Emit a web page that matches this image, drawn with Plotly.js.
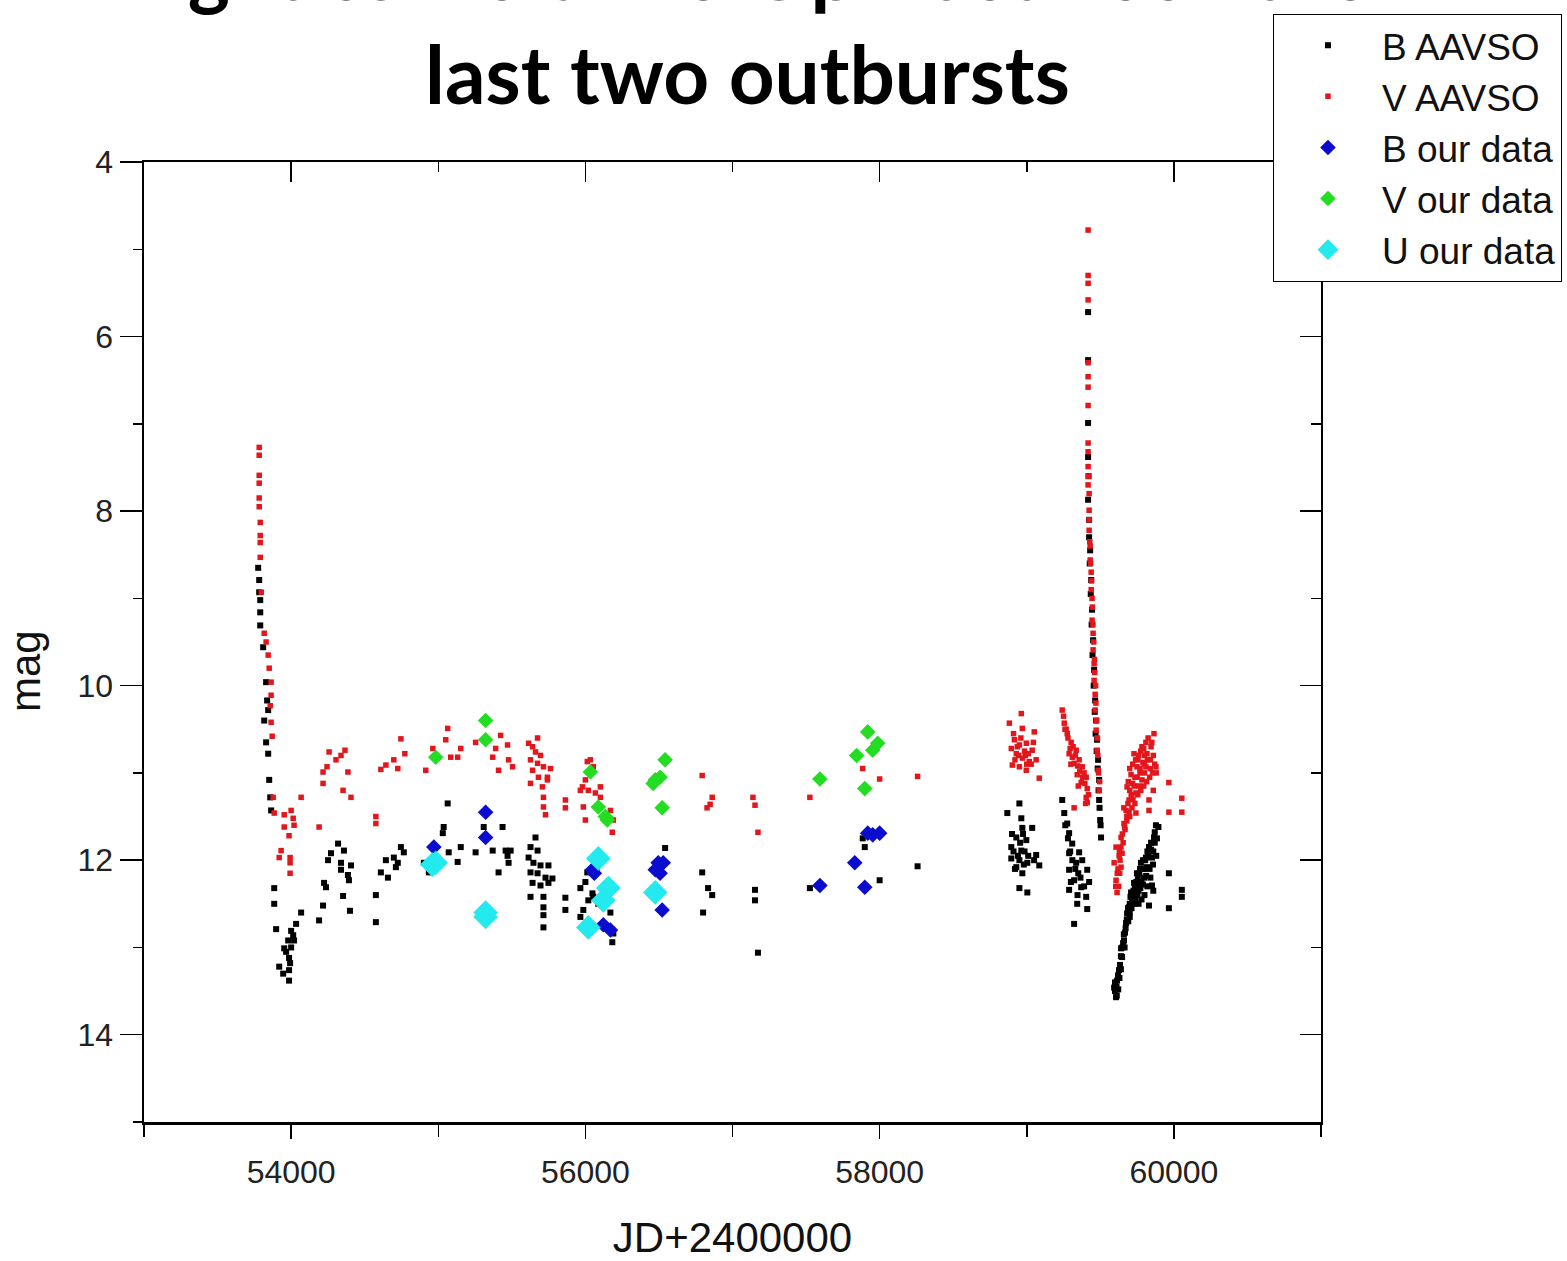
<!DOCTYPE html>
<html>
<head>
<meta charset="utf-8">
<script src="https://cdn.plot.ly/plotly-3.0.1.min.js"></script>
<style>
html,body{margin:0;padding:0;background:#fff;}
#chart{width:1567px;height:1261px;}
</style>
</head>
<body>
<div id="chart"></div>
<script>
// ---- Data ----
const bAavsoJD = [
53776,53783,53783,53790,53790,53790,53810,53830,53837,53844,53817,53830,53844,53851,53858,53864,53885,53885,53898,
54068,54034,54000,53980,53953,54000,53986,53919,53946,53986,53986,54014,54020,53966,53993,
54190,54217,54224,54237,54251,54271,54319,54359,54339,54407,54339,54386,54393,54353,54400,
54576,54576,54610,54644,54658,54698,54712,54725,54746,54766,
54902,54936,55064,55037,55031,54970,55071,55132,55153,55254,55309,55437,55370,55458,55492,55478,55410,55471,
55661,55627,55675,55614,55647,55695,55749,55627,55675,55729,55776,55641,55695,55749,55627,55715,55715,55715,55715,55864,55864,
55966,56000,56048,56020,56054,55986,55966,56088,56170,56190,56183,56013,
56542,56794,56834,56862,56800,57153,57153,57173,57526,57885,57899,58000,58258,
58950,58868,58963,58970,59037,58929,58997,58895,58963,59064,58895,58950,59004,59085,58929,58970,58950,59004,
58910,58940,58955,58985,59010,58920,58980,59050,58900,58975,
59241,59255,59275,59288,59309,59288,59356,59336,59377,59411,59288,59322,59424,59370,59288,59404,59343,59411,59322,
59262,59280,59295,59310,59330,59350,59365,59390,59300,59345,
59417,59417,59417,59417,59417,59424,59431,59438,59444,59451,59458,59465,59472,59478,59485,59492,59492,59499,59505,
59420,59424,59428,59435,59441,59447,59455,59462,59468,59475,59482,59488,59495,59502,
59607,59594,59614,59627,59648,59641,59661,59668,59675,59682,59695,59716,59709,59742,59729,59763,59749,59797,59776,59817,59810,59851,59831,59865,59878,59851,59831,59966,59966,60054,60054,
59600,59610,59620,59700,59720,59735,59755,59770,59790,59800,59820,59845,59860,59740,59760,59780,59700,59690,59655,59640,59634,
59600,59612,59622,59630,59640,59650,59660,59665,59672,59680,59688,59700,59705,59712,59725,59730,59745,59752,59765,59772,
59785,59790,59805,59812,59825,59835,59845,59858,59870,59880,59870,59885,59895,59840,59820,59800,59780,59760,59860
];
const bAavsoMag = [
8.65,8.79,8.93,9.02,9.16,9.31,9.56,9.96,10.17,10.28,10.40,10.65,10.78,11.08,11.28,11.43,12.32,12.50,12.79,
12.60,12.73,12.81,12.92,13.01,13.00,13.12,13.22,13.30,13.26,13.38,12.86,12.92,13.05,13.18,
12.69,12.52,12.26,12.31,12.00,11.92,11.81,11.89,12.03,12.06,12.11,12.17,12.23,12.41,12.58,
12.40,12.71,12.14,12.00,12.20,11.97,12.08,12.03,11.85,11.91,
12.03,12.14,11.35,11.62,11.69,11.86,11.91,12.02,11.85,11.91,11.62,11.62,11.89,11.89,11.89,12.03,12.14,11.95,
11.74,11.85,11.89,11.97,12.03,12.06,12.06,12.14,12.15,12.20,12.21,12.26,12.29,12.26,12.42,12.42,12.54,12.63,12.77,12.43,12.57,
12.32,12.25,12.38,12.46,12.42,12.57,12.65,12.50,12.60,12.84,12.94,12.14,
11.86,12.14,12.32,12.40,12.60,12.34,12.46,13.06,12.32,11.75,11.85,12.23,12.07,
11.35,11.46,11.52,11.63,11.63,11.74,11.77,11.85,11.89,11.94,11.98,12.00,12.03,12.06,12.08,12.15,12.32,12.37,
11.90,11.95,11.80,11.90,11.95,12.10,12.05,12.00,11.70,11.70,
11.31,11.46,11.58,11.69,11.81,11.92,11.91,12.03,12.00,12.11,12.11,12.23,12.25,12.31,12.34,12.42,12.50,12.56,12.73,
11.60,11.75,11.90,12.00,12.10,12.15,12.20,12.30,12.25,12.40,
5.72,6.27,6.99,7.38,7.87,8.10,8.45,8.79,9.13,9.48,9.82,10.17,10.40,10.62,10.85,11.08,11.31,11.54,11.74,
7.60,8.30,8.60,8.95,9.30,9.65,10.00,10.30,10.55,10.75,10.95,11.20,11.40,11.60,
13.57,13.46,13.38,13.26,13.11,13.01,12.92,12.83,12.72,12.61,12.54,12.46,12.37,12.38,12.26,12.31,12.15,12.20,12.03,12.08,11.97,11.97,11.85,11.74,11.60,12.29,12.52,12.15,12.55,12.34,12.42,
13.50,13.45,13.32,12.50,12.40,12.30,12.20,12.10,12.00,12.10,11.90,11.80,11.90,12.45,12.35,12.25,12.65,12.70,12.95,13.10,13.20,
13.40,13.55,13.48,13.35,13.25,13.00,12.85,13.00,12.78,12.68,12.55,12.60,12.42,12.55,12.35,12.50,12.25,12.40,12.15,12.32,
12.10,12.28,12.00,12.18,11.95,12.10,11.88,12.05,11.80,11.95,11.68,11.75,11.62,12.20,12.30,12.40,12.45,12.50,12.35
];

const vAavsoJD = [
53783,53783,53783,53783,53783,53783,53790,53790,53790,53790,53797,53817,53830,53844,53851,53864,53864,53858,53864,53871,
53878,53885,53953,53953,54000,54014,54020,53986,53932,53919,53993,53993,53993,54068,54190,54217,54217,54244,54258,54305,
54339,54366,54386,54353,54407,54576,54576,54610,54644,54698,54746,54773,54725,54915,54963,55051,55064,55085,55132,55153,
55254,55370,55390,55424,55471,55410,55478,55505,
55614,55641,55675,55661,55695,55627,55675,55715,55763,55641,55681,55742,55627,55708,55742,55715,55715,55729,55864,55864,
55986,56000,55966,56000,56013,56034,56054,55980,56020,56068,56102,56102,56170,56190,56183,
56794,56862,56827,56848,57139,57153,57173,57526,57885,58000,58258,
58963,58882,58970,59051,58916,58950,58997,59037,58929,58970,59017,59064,58902,58950,58997,59085,58936,58990,
58895,58920,58945,58960,58985,59010,59030,59045,58910,59000,
59241,59255,59275,59302,59288,59336,59322,59356,59377,59343,59404,59370,59411,59404,59411,59322,59268,59315,59390,
59250,59260,59280,59295,59310,59330,59345,59360,59380,59395,59300,59350,59420,59400,
59417,59417,59417,59417,59417,59417,59417,59417,59417,59417,59424,59424,59431,59438,59444,59451,59458,59465,59472,59478,59485,59492,
59424,59431,59438,59444,59451,59458,59465,
59417,59417,59420,59424,59428,59434,59440,59446,59450,59455,59460,59462,59468,59470,59475,59480,59483,59488,59495,
59865,59783,59817,59729,59878,59810,59749,59709,59783,59682,59742,59695,59831,59675,59742,59661,59641,59607,59648,59594,
59641,59607,59614,59966,60054,59966,60054,59831,
59756,59790,59770,59735,59800,59720,59760,59700,59722,59688,59700,59680,59668,59655,59630,59620,59634,59800,59850,59840,
59700,59720,59740,59760,59775,59795,59810,59825,59845,59860,59870,59855,59835,59815,59795,59775,59755,59735,59715,59695,
59680,59665,59650,59640,59628,59615,59605,59625,59632,59660,59690,59710,59730,59750,59770,59800,59820,59840,59860,59880
];
const vAavsoMag = [
7.27,7.36,7.59,7.68,7.85,7.95,8.13,8.28,8.36,8.53,8.93,9.40,9.50,9.65,9.80,9.96,10.11,10.23,10.42,10.58,
11.28,11.46,11.48,11.62,11.43,11.52,11.60,11.72,11.89,11.97,11.97,12.03,12.15,11.28,11.62,10.99,11.12,10.93,10.76,10.85,
10.80,10.74,10.99,11.20,11.28,11.58,11.50,10.96,10.91,10.85,10.61,10.78,10.95,10.97,10.72,10.62,10.49,10.82,10.82,10.72,
10.65,10.82,10.72,10.57,10.68,10.97,10.85,10.93,
10.66,10.70,10.60,10.76,10.80,10.85,10.89,10.93,10.95,10.97,11.05,11.05,11.12,11.16,11.08,11.28,11.39,11.48,11.31,11.40,
11.39,11.54,11.20,11.08,10.87,10.85,10.93,11.16,11.20,11.23,11.16,11.28,11.43,11.54,11.68,
11.03,11.28,11.40,11.36,11.28,11.37,11.68,11.28,10.95,11.07,11.04,
10.32,10.43,10.49,10.53,10.62,10.68,10.66,10.74,10.78,10.83,10.87,10.85,10.91,10.93,10.97,11.06,10.70,10.80,
10.72,10.85,10.80,10.60,10.75,10.78,10.90,10.65,10.55,10.90,
10.28,10.43,10.55,10.65,10.78,10.74,10.89,10.85,10.93,11.02,11.05,11.11,11.18,11.28,11.34,11.40,10.50,10.70,11.00,
10.35,10.50,10.60,10.72,10.82,10.80,10.92,10.98,11.05,11.12,10.90,11.15,11.25,11.35,
4.78,5.39,5.58,6.46,6.58,6.79,7.22,7.32,7.49,7.70,7.99,8.22,8.56,8.90,9.25,9.59,9.94,10.28,10.51,10.74,10.97,11.20,
8.10,8.40,8.70,9.00,9.40,9.75,10.10,
5.30,6.30,7.60,7.80,8.35,8.60,8.80,9.10,9.30,9.50,9.70,9.85,10.00,10.20,10.40,10.60,10.80,11.00,11.10,
10.55,10.70,10.78,10.78,10.93,10.93,10.93,11.02,11.08,11.16,11.23,11.31,11.31,11.43,11.46,11.58,11.74,11.85,11.92,12.03,
12.08,12.23,12.37,11.11,11.29,11.45,11.45,11.43,
10.85,10.88,11.00,11.05,11.00,11.12,11.15,11.20,11.30,11.35,11.50,11.55,11.65,11.80,11.90,12.10,12.00,10.80,10.65,10.85,
10.95,10.90,10.85,10.80,10.75,10.72,10.65,10.60,10.70,10.80,10.90,11.00,11.05,11.10,11.15,11.20,11.25,11.35,11.40,11.45,
11.50,11.62,11.70,11.85,11.95,12.15,12.30,12.30,12.15,11.40,11.10,11.25,11.15,11.05,10.95,10.90,10.85,10.95,11.20,11.00
];

const bOursJD  = [54970,55322,55322,56048,56061,56122,56170,56495,56529,56475,56508,56522,57594,57831,57899,57919,57953,58000];
const bOursMag = [11.85,11.45,11.74,12.11,12.15,12.74,12.80,12.03,12.03,12.11,12.15,12.57,12.29,12.03,12.31,11.69,11.71,11.69];

const vOursJD  = [54983,55322,55322,56034,56088,56149,56136,56542,56475,56508,56522,56461,57594,57844,57899,57919,57953,57987];
const vOursMag = [10.82,10.40,10.62,10.99,11.39,11.54,11.50,10.85,11.08,11.05,11.40,11.12,11.07,10.80,11.18,10.53,10.74,10.66];

const uOursJD  = [54983,54960,55322,55322,56088,56156,56122,56020,56475];
const uOursMag = [12.03,12.05,12.65,12.60,11.98,12.32,12.46,12.77,12.37];

const seriesNames = ['B AAVSO','V AAVSO','B our data','V our data','U our data'];
const xTickVals = [54000,56000,58000,60000];
const yTickVals = [4,6,8,10,12,14];

// ---- Traces ----
const traces = [
  {x:bAavsoJD, y:bAavsoMag, name:seriesNames[0], type:'scatter', mode:'markers',
   marker:{symbol:'square', size:6, color:'#000000'}},
  {x:vAavsoJD, y:vAavsoMag, name:seriesNames[1], type:'scatter', mode:'markers',
   marker:{symbol:'square', size:5.5, color:'#e3161c'}},
  {x:bOursJD, y:bOursMag, name:seriesNames[2], type:'scatter', mode:'markers',
   marker:{symbol:'diamond', size:12, color:'#0c0cd0'}},
  {x:vOursJD, y:vOursMag, name:seriesNames[3], type:'scatter', mode:'markers',
   marker:{symbol:'diamond', size:12, color:'#22dd22'}},
  {x:uOursJD, y:uOursMag, name:seriesNames[4], type:'scatter', mode:'markers',
   marker:{symbol:'diamond', size:19, color:'#22eaee'}},
  // empty trace so the mirrored top/right axes are drawn
  {x:[], y:[], xaxis:'x2', yaxis:'y2', type:'scatter', mode:'markers', showlegend:false, hoverinfo:'skip'}
];

const tickFont = {family:'"Liberation Sans", Arial, sans-serif', size:32, color:'#222'};
const titleFont = {family:'"Liberation Sans", Arial, sans-serif', size:42, color:'#111'};

const layout = {
  width:1567, height:1261,
  paper_bgcolor:'#ffffff', plot_bgcolor:'#ffffff',
  margin:{l:144, r:246, t:162, b:139, autoexpand:false},
  title:{
    text:'Light curve of RS Oph between the<br>last two outbursts',
    font:{family:'Lato, "Open Sans", sans-serif', size:80, color:'#000', weight:'bold'},
    x:0.477, xref:'container', xanchor:'center',
    y:1.0, yref:'container', yanchor:'bottom'
  },
  showlegend:true,
  legend:{
    x:0.9592, xanchor:'left', y:1.1545, yanchor:'top',
    bgcolor:'#ffffff', bordercolor:'#000', borderwidth:1,
    font:{family:'"Liberation Sans", Arial, sans-serif', size:37, color:'#111'},
    itemwidth:98, tracegroupgap:0
  },
  xaxis:{
    range:[53000,61000], tickvals:xTickVals, ticktext:xTickVals.map(String),
    ticks:'outside', ticklen:14, tickwidth:1.5, tickcolor:'#000',
    minor:{dtick:1000, tick0:53000, ticks:'outside', ticklen:12, tickwidth:1.5, tickcolor:'#000'},
    showline:true, linewidth:2.5, linecolor:'#000', mirror:false,
    showgrid:false, zeroline:false, tickfont:tickFont, ticklabelstandoff:6,
    title:{text:'JD+2400000', font:titleFont, standoff:36}
  },
  yaxis:{
    range:[15,4], tickvals:yTickVals, ticktext:yTickVals.map(String),
    ticks:'outside', ticklen:22, tickwidth:1.5, tickcolor:'#000',
    minor:{dtick:1, tick0:5, ticks:'outside', ticklen:9, tickwidth:1.5, tickcolor:'#000'},
    showline:true, linewidth:2.5, linecolor:'#000', mirror:false,
    showgrid:false, zeroline:false, tickfont:tickFont,
    title:{text:'mag&nbsp;&nbsp;&nbsp;&nbsp;&nbsp;', font:titleFont, standoff:24}
  },
  xaxis2:{
    overlaying:'x', side:'top', anchor:'y2', range:[53000,61000], tickvals:xTickVals,
    showticklabels:false, ticks:'inside', ticklen:20, tickwidth:1.5, tickcolor:'#000',
    minor:{dtick:1000, tick0:53000, ticks:'inside', ticklen:10, tickwidth:1.5, tickcolor:'#000'},
    showline:true, linewidth:2, linecolor:'#000', showgrid:false, zeroline:false
  },
  yaxis2:{
    overlaying:'y', side:'right', anchor:'x2', range:[15,4], tickvals:yTickVals,
    showticklabels:false, ticks:'inside', ticklen:21, tickwidth:1.5, tickcolor:'#000',
    minor:{dtick:1, tick0:5, ticks:'inside', ticklen:10, tickwidth:1.5, tickcolor:'#000'},
    showline:true, linewidth:2, linecolor:'#000', showgrid:false, zeroline:false
  }
};

Plotly.newPlot('chart', traces, layout, {displayModeBar:false, staticPlot:true});
</script>
</body>
</html>
